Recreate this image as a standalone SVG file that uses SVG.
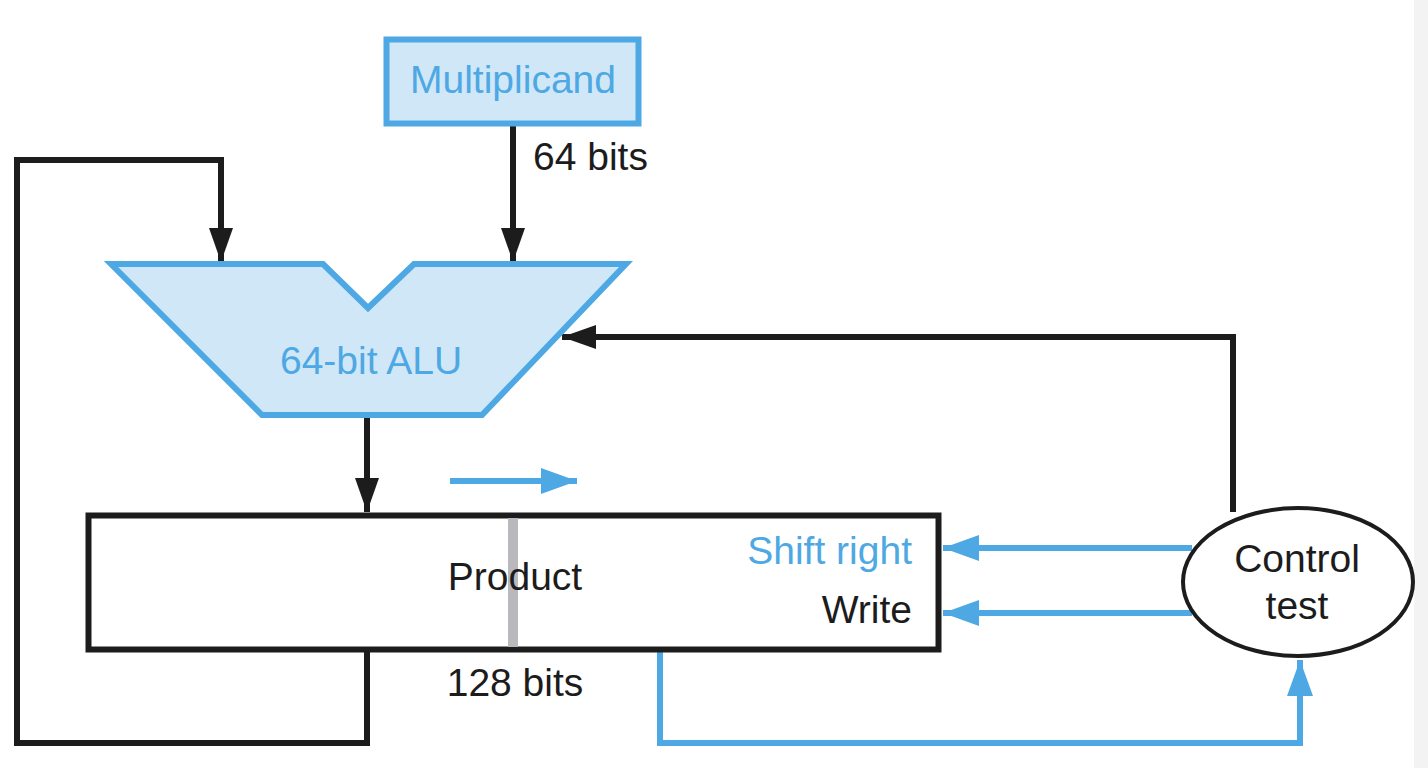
<svg xmlns="http://www.w3.org/2000/svg" width="1428" height="768" viewBox="0 0 1428 768">
<style>
.blk{fill:none;stroke:#1c1c1c;stroke-width:6}
.blu{fill:none;stroke:#4ea8e3;stroke-width:6}
.t{font-family:"Liberation Sans",Arial,sans-serif;font-size:39px;fill:#1c1c1c}
.tb{font-family:"Liberation Sans",Arial,sans-serif;font-size:39px;fill:#4ea8e3}
</style>
<defs>
<marker id="ab" markerUnits="userSpaceOnUse" markerWidth="34" markerHeight="24" refX="34" refY="12" orient="auto"><path d="M0,0 L34,12 L0,24 z" fill="#1c1c1c"/></marker>
<marker id="au" markerUnits="userSpaceOnUse" markerWidth="36" markerHeight="26" refX="36" refY="13" orient="auto"><path d="M0,0 L36,13 L0,26 z" fill="#4ea8e3"/></marker>
</defs>
<rect width="1428" height="768" fill="#ffffff"/>
<rect x="1414" y="0" width="14" height="768" fill="#f3f3f3"/>
<g id="connectors">
<path class="blk" d="M513,125 V262" marker-end="url(#ab)"/>
<path class="blk" d="M367,652 V743 H17 V160 H221 V262" marker-end="url(#ab)"/>
<path class="blk" d="M367,416 V512" marker-end="url(#ab)"/>
<path class="blk" d="M1233,512 V337 H562" marker-end="url(#ab)"/>
<path class="blu" d="M450,481 H577" marker-end="url(#au)"/>
<path class="blu" d="M1192,548 H943" marker-end="url(#au)"/>
<path class="blu" d="M1192,613 H943" marker-end="url(#au)"/>
<path class="blu" d="M660,652 V743 H1300 V660" marker-end="url(#au)"/>
</g>
<g id="multiplicand">
<rect x="386.5" y="39.5" width="252" height="84" fill="#cfe7f7" stroke="#4ea8e3" stroke-width="6"/>
<text class="tb" x="513" y="93" text-anchor="middle">Multiplicand</text>
</g>
<text class="t" x="533" y="170">64 bits</text>
<g id="alu">
<path d="M111,264 H323 L368,308 L414,264 H626 L482,415 H262 Z" fill="#cfe7f7" stroke="#4ea8e3" stroke-width="6" stroke-linejoin="miter"/>
<text class="tb" x="371" y="374" text-anchor="middle">64-bit ALU</text>
</g>
<g id="product">
<rect x="88.5" y="515.5" width="850" height="134" fill="#ffffff" stroke="#1c1c1c" stroke-width="6"/>
<line x1="513" y1="518" x2="513" y2="647" stroke="#b9b9bd" stroke-width="10"/>
<text class="t" x="515" y="590" text-anchor="middle">Product</text>
<text class="tb" x="912" y="564" text-anchor="end">Shift right</text>
<text class="t" x="912" y="623" text-anchor="end">Write</text>
</g>
<text class="t" x="515" y="696" text-anchor="middle">128 bits</text>
<g id="control">
<ellipse cx="1298" cy="582" rx="115" ry="74" fill="#ffffff" stroke="#1c1c1c" stroke-width="4"/>
<text class="t" x="1297" y="572" text-anchor="middle">Control</text>
<text class="t" x="1297" y="619" text-anchor="middle">test</text>
</g>
</svg>
